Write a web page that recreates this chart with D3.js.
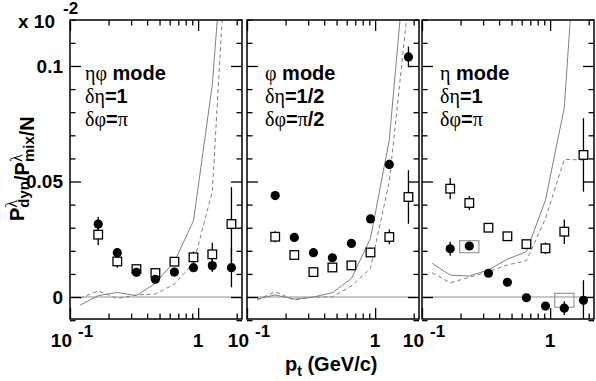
<!DOCTYPE html>
<html><head><meta charset="utf-8">
<script src="https://cdn.jsdelivr.net/npm/d3@7"></script>
<style>body{margin:0;background:#fff}svg{display:block}</style>
</head><body>
<svg id="c" width="596" height="381"></svg>
<script>
// ---------- data ----------
const ptBins  = [0.166, 0.234, 0.33, 0.464, 0.653, 0.92, 1.29, 1.82];
const curvePt = [0.12, 0.166, 0.234, 0.33, 0.464, 0.653, 0.92, 1.29, 1.82];

const yMinorTicks = [-0.01,0.01,0.02,0.03,0.04,0.06,0.07,0.08,0.09,0.11,0.12];
const yMajorTicks = [0, 0.05, 0.1];
const yTickLabels = ["0", "0.05", "0.1"];
const xMinorTicks = [0.2,0.3,0.4,0.5,0.6,0.7,0.8,0.9,2];
const xMajorTicks = [0.1, 1];
const xTickLabels = [["10","-1"], ["1",""]];

const panelNames = [
  ["ηφ mode", "δη=1", "δφ=π"],
  ["φ mode", "δη=1/2", "δφ=π/2"],
  ["η mode", "δη=1", "δφ=π"]
];

// panel 1 : eta-phi mode
const etaPhiCircles    = [0.0316, 0.0192, 0.0107, 0.0077, 0.0108, 0.0127, 0.0136, 0.0127];
const etaPhiCircleErr  = [0.0032, 0.0020, 0.0012, 0.0012, 0.0012, 0.0015, 0.0028, 0.0085];
const etaPhiSquares    = [0.0270, 0.0154, 0.0121, 0.0104, 0.0153, 0.0172, 0.0185, 0.0316];
const etaPhiSquareErr  = [0.0045, 0.0027, 0.0017, 0.0012, 0.0015, 0.0025, 0.0050, 0.0160];
const etaPhiSolid      = [-0.0035, 0.0006, 0.0020, 0.0006, 0.0060, 0.0153, 0.0330, 0.0918, 0.200];
const etaPhiDashed     = [-0.0006, 0.0027, -0.0006, 0.0009, 0.0013, 0.0056, 0.0146, 0.0456, 0.190];

// panel 2 : phi mode
const phiCircles    = [0.0439, 0.0258, 0.0192, 0.0170, 0.0232, 0.0338, 0.0574, 0.1039];
const phiCircleErr  = [0.0015, 0.0015, 0.0015, 0.0015, 0.0015, 0.0015, 0.0020, 0.0045];
const phiSquares    = [0.0261, 0.0182, 0.0108, 0.0128, 0.0137, 0.0193, 0.0260, 0.0433];
const phiSquareErr  = [0.0024, 0.0015, 0.0012, 0.0012, 0.0015, 0.0015, 0.0032, 0.0116];
const phiSolid      = [-0.0008, 0.0009, -0.0009, 0.0000, 0.0019, 0.0080, 0.0254, 0.0680, 0.161];
const phiDashed     = [-0.0013, 0.0023, -0.0013, 0.0000, 0.0001, 0.0048, 0.0124, 0.0500, 0.128];

// panel 3 : eta mode
const etaCircles    = [0.0209, 0.0221, 0.0103, 0.0064, -0.0003, -0.0039, -0.0048, -0.0014];
const etaCircleErr  = [0.0030, 0.0015, 0.0012, 0.0012, 0.0012, 0.0015, 0.0030, 0.0087];
const etaSquares    = [0.0469, 0.0407, 0.0300, 0.0263, 0.0229, 0.0211, 0.0283, 0.0615];
const etaSquareErr  = [0.0046, 0.0030, 0.0017, 0.0013, 0.0017, 0.0025, 0.0053, 0.0159];
const etaSolid      = [0.0146, 0.0095, 0.0091, 0.0117, 0.0164, 0.0196, 0.0420, 0.0820, 0.204];
const etaDashed     = [0.0105, 0.0062, 0.0085, 0.0110, 0.0139, 0.0157, 0.0340, 0.0596, 0.0593];
const etaSysBoxPt   = [0.234, 1.29];
const etaSysBoxVal  = [0.0218, -0.0014];
const etaSysBoxHalf = [0.0026, 0.0030];

const panels = [
  {circles: etaPhiCircles, cErr: etaPhiCircleErr, squares: etaPhiSquares, sErr: etaPhiSquareErr, solid: etaPhiSolid, dashed: etaPhiDashed, boxes: []},
  {circles: phiCircles, cErr: phiCircleErr, squares: phiSquares, sErr: phiSquareErr, solid: phiSolid, dashed: phiDashed, boxes: []},
  {circles: etaCircles, cErr: etaCircleErr, squares: etaSquares, sErr: etaSquareErr, solid: etaSolid, dashed: etaDashed,
   boxes: etaSysBoxPt.map((p,i)=>({pt:p, v:etaSysBoxVal[i], h:etaSysBoxHalf[i]}))}
];

// ---------- layout ----------
const svg = d3.select("#c");
const SANS = "'Liberation Sans', Arial, Helvetica, sans-serif";
const SERIF = "'Liberation Serif', 'Times New Roman', serif";
const panelLeft = [70, 247, 422];
const panelW = 172;
const yTop = 20, yBot = 319;
const textOff = [15, 18, 18];
const y = d3.scaleLinear().domain([-0.0095, 0.1199]).range([yBot, yTop]);
const boxFactor = Math.pow(10, 0.075);

function addMixed(textSel, str, sansSize, serifSize) {
  const runs = str.match(/[\u0370-\u03FF]+|[^\u0370-\u03FF]+/g);
  runs.forEach(r => {
    const greek = /[\u0370-\u03FF]/.test(r);
    textSel.append("tspan").text(r)
      .attr("font-family", greek ? SERIF : SANS)
      .attr("font-weight", greek ? "normal" : "bold")
      .attr("font-size", greek ? serifSize : sansSize);
  });
}

panels.forEach((P, pi) => {
  const left = panelLeft[pi], right = left + panelW;
  const x = d3.scaleLog().domain([0.1, 2.2]).range([left, right]);
  const g = svg.append("g");
  const clipId = "clip" + pi;
  svg.append("clipPath").attr("id", clipId).append("rect")
    .attr("x", left).attr("y", yTop).attr("width", panelW).attr("height", yBot - yTop);
  const inner = g.append("g").attr("clip-path", `url(#${clipId})`);

  // zero line
  inner.append("line").attr("x1", left).attr("x2", right).attr("y1", y(0)).attr("y2", y(0))
    .attr("stroke", "#b4b4b4").attr("stroke-width", 1.4);

  // curves
  const line = d3.line().x((d,i)=>x(curvePt[i])).y(d=>y(d));
  inner.append("path").datum(P.solid).attr("d", line).attr("fill","none")
    .attr("stroke","#808080").attr("stroke-width",1);
  inner.append("path").datum(P.dashed).attr("d", line).attr("fill","none")
    .attr("stroke","#808080").attr("stroke-width",1).attr("stroke-dasharray","4,3");

  // systematic boxes
  inner.selectAll(".sys").data(P.boxes).join("rect")
    .attr("x", d=>x(d.pt/boxFactor)).attr("width", d=>x(d.pt*boxFactor)-x(d.pt/boxFactor))
    .attr("y", d=>y(d.v+d.h)).attr("height", d=>y(d.v-d.h)-y(d.v+d.h))
    .attr("fill","none").attr("stroke","#999").attr("stroke-width",1.2);

  // error bars
  const bars = [];
  P.circles.forEach((v,i)=>bars.push({pt:ptBins[i], v, e:P.cErr[i]}));
  P.squares.forEach((v,i)=>bars.push({pt:ptBins[i], v, e:P.sErr[i]}));
  inner.selectAll(".eb").data(bars).join("line")
    .attr("x1", d=>x(d.pt)).attr("x2", d=>x(d.pt))
    .attr("y1", d=>y(d.v+d.e)).attr("y2", d=>y(d.v-d.e))
    .attr("stroke","#000").attr("stroke-width",1.3);

  // squares
  inner.selectAll(".sq").data(P.squares).join("rect")
    .attr("x", (d,i)=>x(ptBins[i])-4.3).attr("y", d=>y(d)-4.3)
    .attr("width", 8.6).attr("height", 8.6)
    .attr("fill","#fff").attr("stroke","#000").attr("stroke-width",1.3);
  // circles
  inner.selectAll(".ci").data(P.circles).join("circle")
    .attr("cx", (d,i)=>x(ptBins[i])).attr("cy", d=>y(d)).attr("r", 4.6)
    .attr("fill","#000");

  // ticks via axes
  const tickStyle = sel => { sel.select(".domain").remove(); sel.selectAll("line").attr("stroke","#000").attr("stroke-width",1.3); };
  g.append("g").attr("transform",`translate(0,${yBot})`)
    .call(d3.axisBottom(x).tickValues(xMinorTicks).tickSize(-5.5).tickFormat("")).call(tickStyle);
  g.append("g").attr("transform",`translate(0,${yBot})`)
    .call(d3.axisBottom(x).tickValues(xMajorTicks).tickSize(-11).tickFormat("")).call(tickStyle);
  g.append("g").attr("transform",`translate(0,${yTop})`)
    .call(d3.axisTop(x).tickValues(xMinorTicks).tickSize(-5.5).tickFormat("")).call(tickStyle);
  g.append("g").attr("transform",`translate(0,${yTop})`)
    .call(d3.axisTop(x).tickValues(xMajorTicks).tickSize(-11).tickFormat("")).call(tickStyle);
  g.append("g").attr("transform",`translate(${left},0)`)
    .call(d3.axisLeft(y).tickValues(yMinorTicks).tickSize(-5.5).tickFormat("")).call(tickStyle);
  g.append("g").attr("transform",`translate(${left},0)`)
    .call(d3.axisLeft(y).tickValues(yMajorTicks).tickSize(-11).tickFormat("")).call(tickStyle);
  g.append("g").attr("transform",`translate(${right},0)`)
    .call(d3.axisRight(y).tickValues(yMinorTicks).tickSize(-5.5).tickFormat("")).call(tickStyle);
  g.append("g").attr("transform",`translate(${right},0)`)
    .call(d3.axisRight(y).tickValues(yMajorTicks).tickSize(-11).tickFormat("")).call(tickStyle);

  // frame
  g.append("rect").attr("x", left).attr("y", yTop).attr("width", panelW).attr("height", yBot-yTop)
    .attr("fill","none").attr("stroke","#000").attr("stroke-width",1.5);

  // x tick labels
  xMajorTicks.forEach((t, k) => {
    const [base, sup] = xTickLabels[k];
    if (sup) {
      g.append("text").attr("x", x(t)+2).attr("y", 347).attr("text-anchor","end")
        .attr("font-family", SANS).attr("font-weight","bold").attr("font-size",19).text(base);
      g.append("text").attr("x", x(t)+8).attr("y", 337).attr("text-anchor","start")
        .attr("font-family", SANS).attr("font-weight","bold").attr("font-size",17).text(sup);
    } else {
      g.append("text").attr("x", x(t)).attr("y", 347).attr("text-anchor","middle")
        .attr("font-family", SANS).attr("font-weight","bold").attr("font-size",19).text(base);
    }
  });

  // panel annotation
  const baselines = [80, 103, 126];
  panelNames[pi].forEach((s, li) => {
    const t = g.append("text").attr("x", left + textOff[pi]).attr("y", baselines[li]);
    addMixed(t, s, 20, 20);
  });
});

// y tick labels (first panel)
yMajorTicks.forEach((v,k)=>{
  svg.append("text").attr("x", 63).attr("y", y(v)).attr("dy","0.36em")
    .attr("text-anchor","end").attr("font-family",SANS).attr("font-weight","bold")
    .attr("font-size",19).text(yTickLabels[k]);
});

// exponent
svg.append("text").attr("x",55).attr("y",28).attr("text-anchor","end")
  .attr("font-family",SANS).attr("font-weight","bold").attr("font-size",19).text("x 10");
svg.append("text").attr("x",63).attr("y",14)
  .attr("font-family",SANS).attr("font-weight","bold").attr("font-size",17).text("-2");

// x title
const xt = svg.append("text").attr("x",285).attr("y",371)
  .attr("font-family",SANS).attr("font-weight","bold").attr("font-size",20);
xt.append("tspan").text("p");
xt.append("tspan").attr("font-size",14).attr("dy",5).text("t");
xt.append("tspan").attr("dy",-5).text(" (GeV/c)");

// y title
const yt = svg.append("text").attr("transform","translate(24,221) rotate(-90)")
  .attr("font-family",SANS).attr("font-weight","bold").attr("font-size",20);
function stacked(sel, sup, sub) {
  const a = sel.append("tspan").attr("font-family",SERIF).attr("font-weight","normal")
    .attr("font-size",16).attr("dy",-7).text(sup);
  const w = a.node().getComputedTextLength();
  sel.append("tspan").attr("font-size",15).attr("dx",-w).attr("dy",12).text(sub);
  sel.append("tspan").attr("dy",-5).text("");
}
yt.append("tspan").text("P");
stacked(yt, "λ", "dyn");
yt.append("tspan").text("/P");
stacked(yt, "λ", "mix");
yt.append("tspan").text("/N");
</script>
</body></html>
